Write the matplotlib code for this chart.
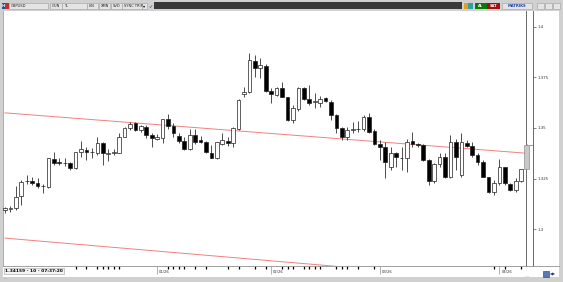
import matplotlib
matplotlib.use("Agg")
import matplotlib.pyplot as plt
import numpy as np
from matplotlib.patches import Rectangle
from matplotlib.lines import Line2D
from matplotlib.ticker import FuncFormatter

# daily GBPUSD candles (open, high, low, close)
opens = [1.3094, 1.3100, 1.3102, 1.3163, 1.3236, 1.3238, 1.3229, 1.3211, 1.3209, 1.3345,
         1.3330, 1.3328, 1.3325, 1.3300, 1.3383, 1.3391, 1.3381, 1.3375, 1.3424, 1.3373,
         1.3375, 1.3378, 1.3457, 1.3500, 1.3523, 1.3490, 1.3503, 1.3465, 1.3445, 1.3452,
         1.3543, 1.3510, 1.3462, 1.3437, 1.3396, 1.3465, 1.3441, 1.3432, 1.3378, 1.3350,
         1.3421, 1.3437, 1.3424, 1.3494, 1.3668, 1.3680, 1.3833, 1.3797, 1.3807, 1.3685,
         1.3663, 1.3697, 1.3652, 1.3540, 1.3593, 1.3697, 1.3642, 1.3630, 1.3625, 1.3647,
         1.3630, 1.3564, 1.3498, 1.3457, 1.3492, 1.3494, 1.3494, 1.3553, 1.3487, 1.3421,
         1.3408, 1.3309, 1.3375, 1.3353, 1.3350, 1.3437, 1.3421, 1.3416, 1.3342, 1.3239,
         1.3322, 1.3358, 1.3259, 1.3432, 1.3267, 1.3427, 1.3411, 1.3366, 1.3333, 1.3256,
         1.3185, 1.3226, 1.3305, 1.3223, 1.3193, 1.3239, 1.3295]
highs = [1.3110, 1.3114, 1.3213, 1.3243, 1.3267, 1.3259, 1.3251, 1.3223, 1.3350, 1.3383,
         1.3350, 1.3350, 1.3333, 1.3383, 1.3437, 1.3404, 1.3399, 1.3457, 1.3432, 1.3395,
         1.3395, 1.3474, 1.3506, 1.3530, 1.3530, 1.3515, 1.3515, 1.3474, 1.3469, 1.3545,
         1.3569, 1.3523, 1.3474, 1.3457, 1.3494, 1.3494, 1.3462, 1.3437, 1.3416, 1.3432,
         1.3474, 1.3457, 1.3506, 1.3642, 1.3704, 1.3870, 1.3861, 1.3845, 1.3817, 1.3697,
         1.3704, 1.3729, 1.3655, 1.3614, 1.3701, 1.3704, 1.3713, 1.3672, 1.3658, 1.3655,
         1.3639, 1.3569, 1.3506, 1.3503, 1.3531, 1.3536, 1.3564, 1.3576, 1.3494, 1.3441,
         1.3432, 1.3408, 1.3383, 1.3408, 1.3444, 1.3482, 1.3424, 1.3421, 1.3345, 1.3328,
         1.3375, 1.3375, 1.3465, 1.3444, 1.3477, 1.3441, 1.3432, 1.3375, 1.3342, 1.3259,
         1.3243, 1.3345, 1.3309, 1.3226, 1.3251, 1.3295, 1.3421]
lows = [1.3078, 1.3086, 1.3094, 1.3119, 1.3223, 1.3218, 1.3201, 1.3180, 1.3201, 1.3317,
        1.3317, 1.3312, 1.3292, 1.3295, 1.3358, 1.3342, 1.3350, 1.3366, 1.3317, 1.3338,
        1.3366, 1.3375, 1.3454, 1.3490, 1.3485, 1.3482, 1.3449, 1.3404, 1.3441, 1.3424,
        1.3494, 1.3457, 1.3424, 1.3391, 1.3391, 1.3421, 1.3424, 1.3375, 1.3350, 1.3347,
        1.3416, 1.3411, 1.3408, 1.3490, 1.3652, 1.3675, 1.3751, 1.3747, 1.3680, 1.3622,
        1.3658, 1.3652, 1.3536, 1.3523, 1.3586, 1.3639, 1.3614, 1.3598, 1.3605, 1.3630,
        1.3540, 1.3474, 1.3441, 1.3441, 1.3474, 1.3482, 1.3487, 1.3474, 1.3416, 1.3342,
        1.3251, 1.3292, 1.3309, 1.3292, 1.3284, 1.3408, 1.3408, 1.3338, 1.3218, 1.3226,
        1.3309, 1.3251, 1.3251, 1.3292, 1.3259, 1.3408, 1.3358, 1.3317, 1.3256, 1.3180,
        1.3168, 1.3218, 1.3218, 1.3188, 1.3185, 1.3234, 1.3295]
closes = [1.3105, 1.3102, 1.3160, 1.3234, 1.3238, 1.3229, 1.3213, 1.3213, 1.3350, 1.3325,
          1.3327, 1.3326, 1.3300, 1.3383, 1.3395, 1.3383, 1.3379, 1.3424, 1.3375, 1.3376,
          1.3383, 1.3454, 1.3500, 1.3520, 1.3490, 1.3510, 1.3465, 1.3449, 1.3457, 1.3545,
          1.3510, 1.3474, 1.3437, 1.3396, 1.3465, 1.3432, 1.3432, 1.3383, 1.3350, 1.3429,
          1.3441, 1.3424, 1.3498, 1.3639, 1.3680, 1.3837, 1.3799, 1.3812, 1.3685, 1.3668,
          1.3697, 1.3655, 1.3540, 1.3598, 1.3697, 1.3642, 1.3622, 1.3632, 1.3642, 1.3635,
          1.3564, 1.3498, 1.3457, 1.3490, 1.3494, 1.3495, 1.3553, 1.3482, 1.3421, 1.3408,
          1.3333, 1.3378, 1.3358, 1.3350, 1.3432, 1.3421, 1.3414, 1.3342, 1.3239, 1.3322,
          1.3358, 1.3259, 1.3432, 1.3358, 1.3432, 1.3411, 1.3366, 1.3333, 1.3259, 1.3185,
          1.3226, 1.3305, 1.3226, 1.3193, 1.3239, 1.3295, 1.34159]

# trend channel (two red lines), endpoints at candle 0 and the last candle
trend_idx = [0, 96]
upper_line = [1.3575, 1.3375]
lower_line = [1.2955, 1.2735]

month_idx = [28, 49, 69, 91]
month_labels = ["01/26", "02/26", "03/26", "04/26"]
event_idx = [13, 15, 17, 18, 19, 20, 21, 30, 31, 32, 33, 35, 37, 41, 43, 46, 48,
             51, 52, 53, 55, 56, 57, 58, 61, 62, 63, 65, 68, 90, 92, 95]
price_ticks = [1.3, 1.325, 1.35, 1.375, 1.4]

W, H = 563, 282
FRAME = "#d0d0d0"


def fx(x):
    return x / W


def fy(y):
    return 1 - y / H


fig = plt.figure(figsize=(W / 100, H / 100), dpi=100, facecolor=FRAME)


def box(x0, x1, y0, y1, fc, ec="none", lw=0.4, z=1):
    fig.add_artist(Rectangle((fx(x0), fy(y1)), (x1 - x0) / W, (y1 - y0) / H,
                             transform=fig.transFigure, fc=fc, ec=ec, lw=lw, zorder=z))


def hline(x0, x1, y, color, lw=0.6):
    fig.add_artist(Line2D([fx(x0), fx(x1)], [fy(y), fy(y)], transform=fig.transFigure,
                          color=color, lw=lw, zorder=3))


# white chart area (plot + price scale + date strip)
box(3, 559, 11, 277, "white", z=-1)

ax = fig.add_axes([fx(3), fy(266), (526 - 3) / W, (266 - 11) / H])
ax.set_facecolor("white")
ylim = (1.2817, 1.4079)
ax.set_ylim(*ylim)
ax.set_xlim(-0.37, 95.9)

o = np.array(opens); c = np.array(closes); hi = np.array(highs); lo = np.array(lows)
x = np.arange(len(o))
up = c >= o
body_lo = np.minimum(o, c)
body_h = np.maximum(np.abs(c - o), 0.0003)

ax.plot(trend_idx, upper_line, color="#f08080", lw=0.7, zorder=1)
ax.plot(trend_idx, lower_line, color="#f08080", lw=0.7, zorder=1)

last = len(o) - 1
ax.vlines(x[:last], lo[:last], hi[:last], color="#303030", lw=0.6, zorder=2)
face = np.where(up, "white", "black")[:last]
ax.bar(x[:last], body_h[:last], bottom=body_lo[:last], width=0.68, color=face,
       edgecolor="#202020", lw=0.5, zorder=3)
# current (unfinished) candle in grey
ax.vlines(x[last], lo[last], hi[last], color="#909090", lw=0.6, zorder=2, clip_on=False)
ax.bar(x[last], body_h[last], bottom=body_lo[last], width=0.8, color="#c8c8c8",
       edgecolor="#909090", lw=0.5, zorder=3, clip_on=False)
ax.plot([96.4, 97.0], [c[last], c[last]], color="#4cc3c3", lw=0.8, clip_on=False, zorder=4)

ax.spines["top"].set_visible(False)
ax.spines["left"].set_color("#a0a0a0")
ax.spines["right"].set_color("#505050")
ax.spines["bottom"].set_color("#909090")
for s in ax.spines.values():
    s.set_linewidth(0.6)
ax.set_yticks([])
ax.set_xticks(month_idx)
ax.set_xticks(event_idx, minor=True)
ax.tick_params(axis="x", which="major", length=6, width=0.5, color="#909090",
               labelbottom=False)
ax.tick_params(axis="x", which="minor", length=2.2, width=0.9, color="black")
for i, lab in zip(month_idx, month_labels):
    ax.text(i + 0.35, -0.016, lab, transform=ax.get_xaxis_transform(), fontsize=2.7,
            va="top", ha="left", color="#303030")

# price scale strip
ax2 = fig.add_axes([fx(533), fy(266), 1e-4, (266 - 11) / H])
ax2.set_ylim(*ylim)
ax2.set_xticks([])
for s in ["top", "bottom", "right"]:
    ax2.spines[s].set_visible(False)
ax2.spines["left"].set_color("#505050")
ax2.spines["left"].set_linewidth(0.6)
ax2.yaxis.set_ticks_position("right")
ax2.set_yticks(price_ticks)
ax2.yaxis.set_major_formatter(FuncFormatter(lambda v, _: f"{v:g}"))
ax2.tick_params(axis="y", direction="out", length=2, width=0.5, pad=1,
                labelsize=2.8, labelcolor="#303030", color="#505050")
hline(526, 559, 266, "#909090")

# bottom info box
ax.text(fx(5), fy(271), f"{closes[-1]:.5f} - 10 - 07:37:20", transform=fig.transFigure,
        fontsize=3.2, weight="bold", va="center", ha="left", color="black",
        bbox=dict(boxstyle="square,pad=0.25", fc="#f4f4f4", ec="#a0a0a0", lw=0.4))
fig.text(fx(4), fy(278), "...", fontsize=3, color="#505050", va="center")
fig.text(fx(525), fy(276), "....", fontsize=3, color="#505050", va="center")
box(543, 549, 271, 277, "#5a78b4", "#303060")
fig.text(fx(550), fy(274), "\u25c0\u25b6", fontsize=2.8, color="#203080", va="center")

# toolbar
box(2, 5, 3, 9, "#2a4a9a")
fig.text(fx(3.5), fy(6), "H", fontsize=2.8, color="white", ha="center", va="center",
         weight="bold")
box(5, 9, 3, 9, "#c03030")
toolbar = [(9, 48, "GBPUSD"), (50, 62, "GUN"), (62, 87, "TL"), (87, 98, "LIN"),
           (99, 110, "XMN"), (111, 122, "SVD"), (122, 142, "SYNC TRIP")]
for x0, x1, lab in toolbar:
    box(x0, x1, 3, 9, "#e4e4e4", "#a0a0a0")
    fig.text(fx(x0 + 2), fy(6), lab, fontsize=2.6, color="#202020", va="center", ha="left")
box(142, 147, 3, 9, "#e4e4e4", "#a0a0a0")
fig.text(fx(144.5), fy(6), "\u25be", fontsize=3, ha="center", va="center")
fig.text(fx(150.5), fy(6), "\u2714", fontsize=3.5, color="#2a78d8", ha="center",
         va="center")
box(154, 462, 2, 9, "#383838")
box(464, 468, 3, 9, "#e0a020")
box(468, 473, 3, 9, "#30a0a0")
box(475, 487, 3, 9, "#0a7a0a")
fig.text(fx(481), fy(6), "AL", fontsize=2.6, color="white", ha="center", va="center",
         weight="bold")
box(487, 500, 3, 9, "#a01010")
fig.text(fx(493.5), fy(6), "SAT", fontsize=2.6, color="white", ha="center", va="center",
         weight="bold")
box(502, 532, 3, 9, "#e4e4e4", "#a0a0a0")
fig.text(fx(517), fy(6), "MATRIKS", fontsize=2.7, color="#2040a0", ha="center",
         va="center", weight="bold")
for x0 in (537, 545, 553):
    box(x0, x0 + 7, 3, 9, "#e4e4e4", "#a0a0a0")

fig.savefig("out.png", dpi=100, facecolor=fig.get_facecolor())
